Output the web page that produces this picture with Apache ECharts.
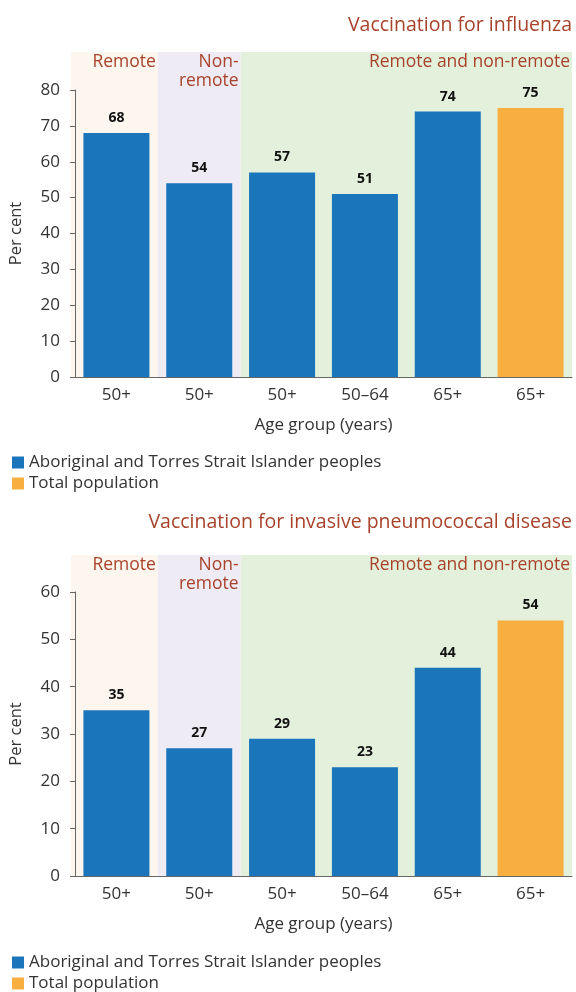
<!DOCTYPE html>
<html><head><meta charset="utf-8">
<script src="https://cdn.jsdelivr.net/npm/echarts@6/dist/echarts.min.js"></script>
<style>html,body{margin:0;padding:0;background:#fff}#c{width:576px;height:992px}</style>
</head><body><div id="c"></div>
<script>
const categories = ['50+', '50+', '50+', '50–64', '65+', '65+'];
const influenzaIndigenous = [68, 54, 57, 51, 74, '-'];
const influenzaTotal = ['-', '-', '-', '-', '-', 75];
const pneumoIndigenous = [35, 27, 29, 23, 44, '-'];
const pneumoTotal = ['-', '-', '-', '-', '-', 54];
const bandRanges = [[0, 1, 0], [1, 2, 1], [2, 6, 2]];
const bandLabels = ['Remote', 'Non-\nremote', 'Remote and non-remote'];
const seriesNames = ['Aboriginal and Torres Strait Islander peoples', 'Total population'];
const titles = ['Vaccination for influenza', 'Vaccination for invasive pneumococcal disease'];

const FONT = 'Open Sans';
const bandColors = ['#fdf6ee', '#efebf4', '#e3f0dc'];
const red = '#a8422a';
const blue = '#1a75bb';
const orange = '#f9ae40';

const chart = echarts.init(document.getElementById('c'), null, {renderer: 'canvas'});

function bandSeries(xi, yi) {
  return {
    type: 'custom', xAxisIndex: xi, yAxisIndex: yi, z: -10, silent: true,
    data: bandRanges,
    renderItem: function (params, api) {
      const x0 = api.value(0), x1 = api.value(1), idx = api.value(2);
      const p0 = api.coord([x0, 1]);
      const p1 = api.coord([x1, 0]);
      const left = idx === 0 ? p0[0] - 4 : p0[0];
      return {
        type: 'group', children: [
          {type: 'rect', shape: {x: left, y: p0[1], width: p1[0] - left, height: p1[1] - p0[1]}, style: {fill: bandColors[idx]}},
          {type: 'text', style: {text: bandLabels[idx], x: p1[0] - 2, y: p0[1] + 1, align: 'right', verticalAlign: 'top', fill: red, font: '17.5px "' + FONT + '"', lineHeight: 19}}
        ]
      };
    }
  };
}

const barLabel = {show: true, position: 'top', distance: 8, fontFamily: FONT, fontWeight: 'bold', fontSize: 14, color: '#111'};

function barSeries(xi, yi, a, b) {
  return [
    {name: seriesNames[0], type: 'bar', xAxisIndex: xi, yAxisIndex: yi, stack: 's' + xi, barWidth: 66, data: a, itemStyle: {color: blue}, label: barLabel},
    {name: seriesNames[1], type: 'bar', xAxisIndex: xi, yAxisIndex: yi, stack: 's' + xi, barWidth: 66, data: b, itemStyle: {color: orange}, label: barLabel}
  ];
}

function catAxis(gi) {
  return {
    type: 'category', gridIndex: gi, data: categories,
    axisLine: {show: true, lineStyle: {color: '#666', width: 1}},
    axisTick: {show: false},
    axisLabel: {fontFamily: FONT, fontSize: 17, color: '#333', margin: 10},
    name: 'Age group (years)', nameLocation: 'middle', nameGap: 40,
    nameTextStyle: {fontFamily: FONT, fontSize: 17, color: '#333'}
  };
}
function valAxis(gi, max) {
  return {
    type: 'value', gridIndex: gi, min: 0, max: max, interval: 10,
    axisLine: {show: true, lineStyle: {color: '#666', width: 1}},
    axisTick: {show: true, length: 5, lineStyle: {color: '#666'}},
    splitLine: {show: false},
    axisLabel: {fontFamily: FONT, fontSize: 17, color: '#333', margin: 15},
    name: 'Per cent', nameLocation: 'middle', nameGap: 50, nameRotate: 90,
    nameTextStyle: {fontFamily: FONT, fontSize: 16.5, color: '#333'}
  };
}
function hiddenX(gi) { return {type: 'value', gridIndex: gi, min: 0, max: 6, show: false}; }
function hiddenY(gi) { return {type: 'value', gridIndex: gi, min: 0, max: 1, show: false}; }

function legend(top, name) {
  return {
    orient: 'vertical', left: 12, top: top, itemGap: 0, itemWidth: 12, itemHeight: 12,
    icon: 'rect', data: [name], padding: 0,
    textStyle: {fontFamily: FONT, fontSize: 17, color: '#333'}
  };
}

chart.setOption({
  animation: false,
  textStyle: {fontFamily: FONT},
  title: [
    {text: titles[0], right: 4, top: 15, padding: 0, textStyle: {fontFamily: FONT, fontSize: 19.5, fontWeight: 'normal', color: red}},
    {text: titles[1], right: 4, top: 512, padding: 0, textStyle: {fontFamily: FONT, fontSize: 19.5, fontWeight: 'normal', color: red}}
  ],
  legend: [legend(454, seriesNames[0]), legend(475, seriesNames[1]), legend(954, seriesNames[0]), legend(975, seriesNames[1])],
  grid: [
    {left: 75, right: 4, top: 52, height: 325},
    {left: 71, right: 4, top: 90, height: 287},
    {left: 75, right: 4, top: 555, height: 321},
    {left: 71, right: 4, top: 592, height: 284}
  ],
  xAxis: [hiddenX(0), catAxis(1), hiddenX(2), catAxis(3)],
  yAxis: [hiddenY(0), valAxis(1, 80), hiddenY(2), valAxis(3, 60)],
  series: [
    bandSeries(0, 0),
    ...barSeries(1, 1, influenzaIndigenous, influenzaTotal),
    bandSeries(2, 2),
    ...barSeries(3, 3, pneumoIndigenous, pneumoTotal)
  ]
});
</script></body></html>
